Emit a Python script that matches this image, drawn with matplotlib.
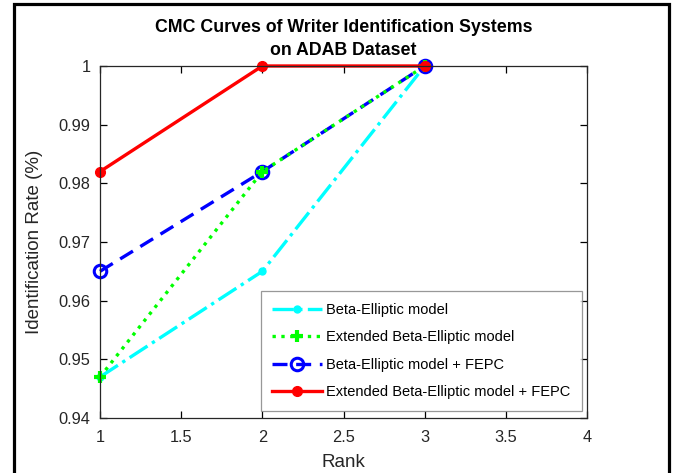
import matplotlib.pyplot as plt
from matplotlib.patches import Rectangle

plt.rcParams['font.family'] = ['Liberation Sans', 'DejaVu Sans']

ranks = [1, 2, 3]
beta_elliptic = [0.947, 0.965, 1.0]
ext_beta_elliptic = [0.947, 0.982, 1.0]
beta_elliptic_fepc = [0.965, 0.982, 1.0]
ext_beta_elliptic_fepc = [0.982, 1.0, 1.0]

labels = ['Beta-Elliptic model', 'Extended Beta-Elliptic model',
          'Beta-Elliptic model + FEPC', 'Extended Beta-Elliptic model + FEPC']

xticks = [1, 1.5, 2, 2.5, 3, 3.5, 4]
xticklabels = ['1', '1.5', '2', '2.5', '3', '3.5', '4']
yticks = [0.94, 0.95, 0.96, 0.97, 0.98, 0.99, 1.0]
yticklabels = ['0.94', '0.95', '0.96', '0.97', '0.98', '0.99', '1']

fig = plt.figure(figsize=(6.78, 4.73), dpi=100)
ax = fig.add_axes([0.1475, 0.1163, 0.7183, 0.7442])

ax.plot(ranks, beta_elliptic, color='#00ffff', linestyle='-.', linewidth=2.4,
        marker='o', markersize=5, label=labels[0], clip_on=False)
ax.plot(ranks, beta_elliptic_fepc, color='#0000ff', linewidth=2.4,
        dashes=(4.5, 2.6), marker='o', markersize=9, markerfacecolor='none',
        markeredgewidth=2.2, label=labels[2], clip_on=False)
ax.plot(ranks, ext_beta_elliptic, color='#00ff00', linestyle=':', linewidth=2.4,
        marker='+', markersize=9, markeredgewidth=3, label=labels[1], clip_on=False)
ax.plot(ranks, ext_beta_elliptic_fepc, color='#ff0000', linestyle='-', linewidth=2.4,
        marker='o', markersize=7, label=labels[3], clip_on=False)

ax.set_xlim(1, 4)
ax.set_ylim(0.94, 1.0)
ax.set_xticks(xticks)
ax.set_xticklabels(xticklabels)
ax.set_yticks(yticks)
ax.set_yticklabels(yticklabels)
ax.tick_params(direction='in', top=True, right=True, length=5, width=0.9,
               labelsize=11.8, labelcolor='#262626')
ax.tick_params(axis='x', pad=9)
ax.tick_params(axis='y', pad=7)
for s in ax.spines.values():
    s.set_linewidth(0.9)
    s.set_color('#262626')

ax.set_xlabel('Rank', fontsize=13.5, color='#262626', labelpad=6)
ax.set_ylabel('Identification Rate (%)', fontsize=13.5, color='#262626', labelpad=11)
ax.set_title('CMC Curves of Writer Identification Systems\non ADAB Dataset',
             fontsize=12.8, fontweight='bold', pad=8, linespacing=1.45)

h, l = ax.get_legend_handles_labels()
order = [0, 2, 1, 3]
leg = ax.legend([h[i] for i in order], [l[i] for i in order], loc='lower right',
                bbox_to_anchor=(0.99, 0.02), borderaxespad=0, fontsize=10.5,
                frameon=True, fancybox=False, edgecolor='#7f7f7f',
                handlelength=3.4, labelspacing=0.92, borderpad=0.8,
                handletextpad=0.3)
leg.get_frame().set_linewidth(0.9)

frame = Rectangle((14 / 678, -0.1), (669 - 14) / 678, 0.1 + (473 - 4.5) / 473,
                  transform=fig.transFigure, fill=False, edgecolor='black',
                  linewidth=2.3, clip_on=False)
fig.patches.append(frame)

fig.savefig('out.png', dpi=100, facecolor='white')
